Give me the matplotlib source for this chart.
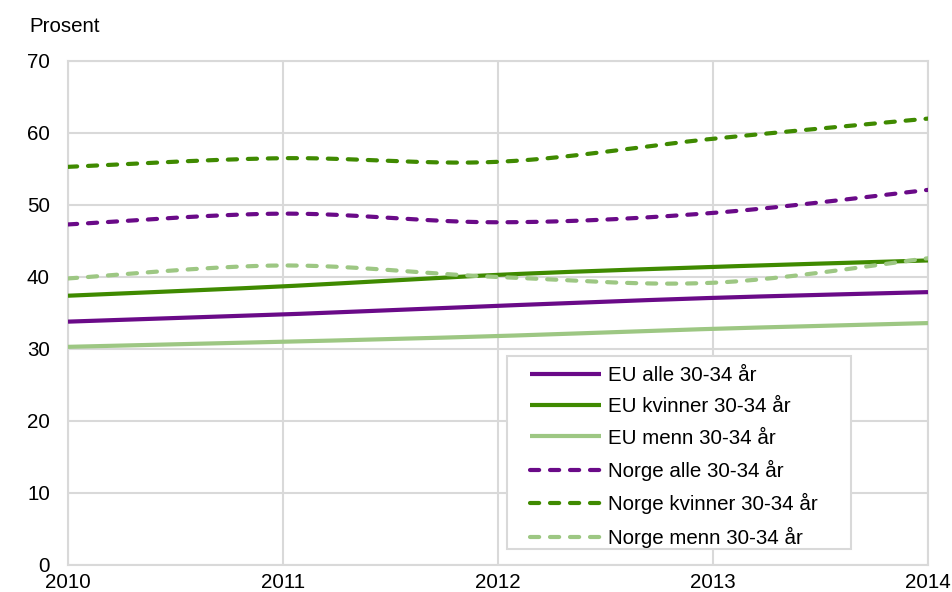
import numpy as np
import matplotlib
matplotlib.use("Agg")
import matplotlib.pyplot as plt
from matplotlib.patches import Rectangle

years = [2010, 2011, 2012, 2013, 2014]
series_names = ["EU alle 30-34 år", "EU kvinner 30-34 år", "EU menn 30-34 år",
                "Norge alle 30-34 år", "Norge kvinner 30-34 år", "Norge menn 30-34 år"]
eu_alle = [33.8, 34.8, 36.0, 37.1, 37.9]
eu_kvinner = [37.4, 38.7, 40.3, 41.4, 42.3]
eu_menn = [30.3, 31.0, 31.8, 32.8, 33.6]
norge_alle = [47.3, 48.8, 47.6, 48.9, 52.1]
norge_kvinner = [55.3, 56.5, 56.0, 59.2, 62.0]
norge_menn = [39.8, 41.6, 40.0, 39.2, 42.6]
y_ticks = [0, 10, 20, 30, 40, 50, 60, 70]

purple = "#6a0a88"
dgreen = "#3f8a00"
lgreen = "#9dc783"
grid_c = "#d9d9d9"

plt.rcParams['font.family'] = ['Liberation Sans', 'DejaVu Sans']
FS = 14.8


def smooth(x, y, n=40):
    # Excel-style smoothed line (Catmull-Rom Bezier)
    x = np.asarray(x, float); y = np.asarray(y, float)
    P = np.column_stack([x, y])
    out = []
    for i in range(len(P) - 1):
        p0 = P[i - 1] if i > 0 else P[i]
        p1 = P[i]; p2 = P[i + 1]
        p3 = P[i + 2] if i + 2 < len(P) else P[i + 1]
        c1 = p1 + (p2 - p0) / 6.0
        c2 = p2 - (p3 - p1) / 6.0
        t = np.linspace(0, 1, n)[:, None]
        seg = ((1 - t) ** 3) * p1 + 3 * ((1 - t) ** 2) * t * c1 + 3 * (1 - t) * t ** 2 * c2 + t ** 3 * p2
        out.append(seg if i == 0 else seg[1:])
    s = np.vstack(out)
    return s[:, 0], s[:, 1]


fig = plt.figure(figsize=(9.53, 5.92), dpi=100)
ax = fig.add_axes([68 / 953, 1 - 565 / 592, (928 - 68) / 953, (565 - 61) / 592])

data = [eu_alle, eu_kvinner, eu_menn, norge_alle, norge_kvinner, norge_menn]
colors = [purple, dgreen, lgreen, purple, dgreen, lgreen]
dashed = [False, False, False, True, True, True]
order = [2, 1, 0, 5, 3, 4]
handles = {}
for i in order:
    xs, ys = smooth(years, data[i])
    if dashed[i]:
        ln, = ax.plot(xs, ys, color=colors[i], lw=3.0, linestyle=(0, (2.2, 2.6)),
                      dash_capstyle='round', label=series_names[i], zorder=3)
    else:
        ln, = ax.plot(xs, ys, color=colors[i], lw=3.0, solid_capstyle='butt',
                      label=series_names[i], zorder=3)
    handles[i] = ln

ax.set_xlim(2010, 2014)
ax.set_ylim(0, 70)
ax.set_xticks(years)
ax.set_xticklabels([str(y) for y in years])
ax.set_yticks(y_ticks)
ax.grid(True, color=grid_c, lw=1.5, zorder=0)
ax.set_axisbelow(True)
for sp in ax.spines.values():
    sp.set_color(grid_c)
    sp.set_linewidth(1.5)
ax.tick_params(length=0, labelsize=FS, colors="black")
ax.tick_params(axis='y', pad=13)
ax.tick_params(axis='x', pad=6)

fig.text(29 / 953, 1 - 27 / 592, "Prosent", fontsize=FS, va='center', ha='left')

# legend frame
frame = Rectangle((507 / 953, 1 - 549 / 592), (851 - 507) / 953, (549 - 356) / 592,
                  transform=fig.transFigure, facecolor='white', edgecolor=grid_c,
                  lw=1.5, zorder=4)
fig.patches.append(frame)

leg = fig.legend([handles[i] for i in range(6)], series_names,
                 loc='upper left',
                 bbox_to_anchor=(530 / 953, 1 - 366 / 592),
                 bbox_transform=fig.transFigure, borderaxespad=0, borderpad=0,
                 fontsize=FS, handlelength=3.45, handletextpad=0.33,
                 labelspacing=0.6, frameon=False)
leg.set_zorder(5)

fig.savefig("out.png", dpi=100)
